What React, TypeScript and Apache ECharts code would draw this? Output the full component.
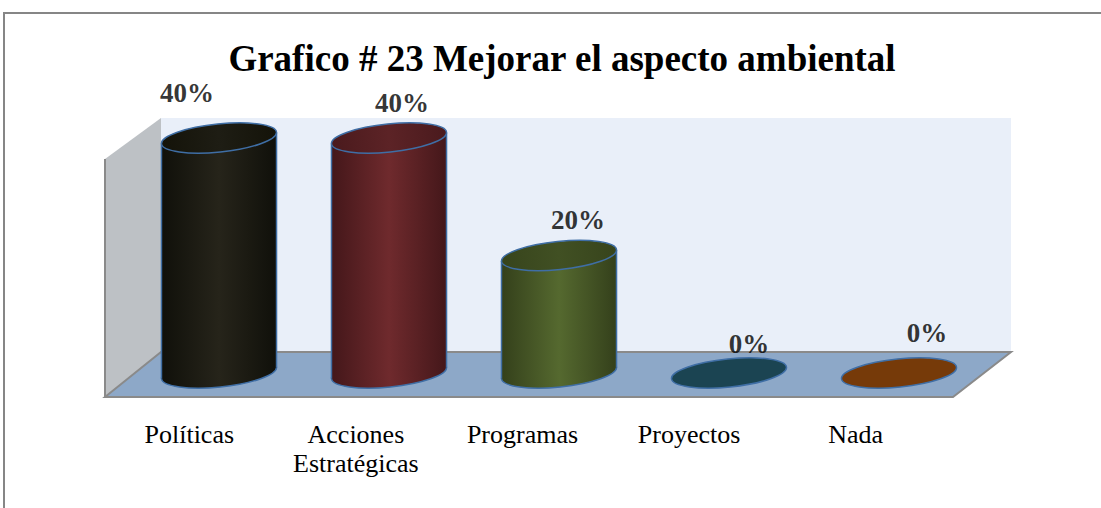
import React, { useEffect, useRef } from "react";
import * as echarts from "echarts";

const categories = ["Políticas", "Acciones\nEstratégicas", "Programas", "Proyectos", "Nada"];
const values = [0.4, 0.4, 0.2, 0, 0];
const titleText = "Grafico # 23 Mejorar el aspecto ambiental";

const labelOffsets = [[-32, -45], [13, -35], [19, -36], [20, -29], [28, -40]];
const midColors = ["#26241a", "#6f2a2d", "#55692f", "#1b4452", "#763a09"];
const edgeColors = ["#10100a", "#44171a", "#34401b", "#1b4452", "#763a09"];
const topMidColors = ["#1e1d14", "#5c2326", "#415023", "#1b4452", "#763a09"];
const topEdgeColors = ["#141309", "#4a1a1d", "#37441c", "#1b4452", "#763a09"];
const outline = "#3f6ea5";
const SERIF = "Liberation Serif";

export default function App() {
  const ref = useRef<HTMLDivElement>(null);
  useEffect(() => {
    if (!ref.current) return;
    const chart = echarts.init(ref.current, null, { renderer: "svg" });
    const grad = (a: string, b: string) =>
      new echarts.graphic.LinearGradient(0, 0, 1, 0, [
        { offset: 0, color: b },
        { offset: 0.5, color: a },
        { offset: 1, color: b },
      ]);
    const gray = "#8a8a8a";
    chart.setOption({
      animation: false,
      backgroundColor: "#ffffff",
      title: {
        text: titleText,
        left: 557,
        top: 35,
        textAlign: "center",
        textStyle: { fontFamily: SERIF, fontSize: 37, fontWeight: "bold", color: "#000" },
      },
      graphic: [
        { type: "rect", z: 0, shape: { x: 4, y: 13, width: 1200, height: 600 }, style: { fill: "#fff", stroke: "#868686", lineWidth: 2 } },
        { type: "rect", z: 0, shape: { x: 161, y: 118, width: 850, height: 234 }, style: { fill: "#e9eff9" } },
        { type: "polygon", z: 0, shape: { points: [[105, 159], [161, 118], [161, 352], [105, 397]] }, style: { fill: "#bdc1c5" } },
        { type: "polygon", z: 0, shape: { points: [[105, 397], [161, 352], [1011, 352], [953, 397]] }, style: { fill: "#8da8c8", stroke: gray, lineWidth: 2 } },
        { type: "line", z: 0, shape: { x1: 105, y1: 159, x2: 105, y2: 397 }, style: { stroke: gray, lineWidth: 2 } },
      ],
      grid: [
        { left: 134, right: 117, top: 138, bottom: 135 },
        { left: 106, right: 162, top: 138, bottom: 111 },
      ],
      xAxis: [
        { type: "category", gridIndex: 0, data: categories, show: false },
        {
          type: "category",
          gridIndex: 1,
          data: categories,
          axisLine: { show: false },
          axisTick: { show: false },
          axisLabel: { interval: 0, margin: 23, fontFamily: SERIF, fontSize: 26, lineHeight: 29, color: "#000" },
        },
      ],
      yAxis: [
        { type: "value", gridIndex: 0, min: 0, max: 0.4, show: false },
        { type: "value", gridIndex: 1, min: 0, max: 1, show: false },
      ],
      series: [
        {
          type: "custom",
          xAxisIndex: 0,
          yAxisIndex: 0,
          z: 2,
          data: values.map((v, i) => [i, v]),
          renderItem: (params: any, api: any) => {
            const i = api.value(0);
            const v = api.value(1);
            const base = api.coord([i, 0]);
            const top = api.coord([i, v]);
            const w = api.size([1, 0])[0] * 0.68;
            const rx = w / 2;
            const ry = 14;
            const t = 0.1;
            const ex = Math.sqrt(rx * rx * Math.cos(t) ** 2 + ry * ry * Math.sin(t) ** 2);
            const ey = ((rx * rx - ry * ry) * Math.sin(t) * Math.cos(t)) / ex;
            const cx = base[0];
            const children: any[] = [
              {
                type: "ellipse",
                x: cx,
                y: base[1],
                rotation: t,
                shape: { cx: 0, cy: 0, rx, ry },
                style: { fill: grad(midColors[i], edgeColors[i]), stroke: outline, lineWidth: 1.5 },
              },
            ];
            if (v > 0) {
              children.push(
                {
                  type: "polygon",
                  shape: {
                    points: [
                      [cx - ex, top[1] + ey],
                      [cx + ex, top[1] - ey],
                      [cx + ex, base[1] - ey],
                      [cx - ex, base[1] + ey],
                    ],
                  },
                  style: { fill: grad(midColors[i], edgeColors[i]) },
                },
                { type: "line", shape: { x1: cx - ex, y1: top[1] + ey, x2: cx - ex, y2: base[1] + ey }, style: { stroke: outline, lineWidth: 1.5 } },
                { type: "line", shape: { x1: cx + ex, y1: top[1] - ey, x2: cx + ex, y2: base[1] - ey }, style: { stroke: outline, lineWidth: 1.5 } },
                {
                  type: "ellipse",
                  x: cx,
                  y: top[1],
                  rotation: t,
                  shape: { cx: 0, cy: 0, rx, ry },
                  style: { fill: grad(topMidColors[i], topEdgeColors[i]), stroke: outline, lineWidth: 1.5 },
                }
              );
            }
            return { type: "group", children };
          },
        },
        {
          type: "scatter",
          xAxisIndex: 0,
          yAxisIndex: 0,
          z: 3,
          symbolSize: 1,
          itemStyle: { color: "rgba(0,0,0,0)" },
          data: values.map((v, i) => ({ value: [i, v], label: { offset: labelOffsets[i] } })),
          label: {
            show: true,
            position: "inside",
            align: "center",
            verticalAlign: "middle",
            formatter: (p: any) => Math.round(p.value[1] * 100) + "%",
            fontFamily: SERIF,
            fontSize: 27,
            fontWeight: "bold",
            color: "#000",
          },
        },
      ],
    });
    return () => chart.dispose();
  }, []);
  return <div ref={ref} style={{ position: "fixed", left: 0, top: 0, width: 1101, height: 508 }} />;
}
